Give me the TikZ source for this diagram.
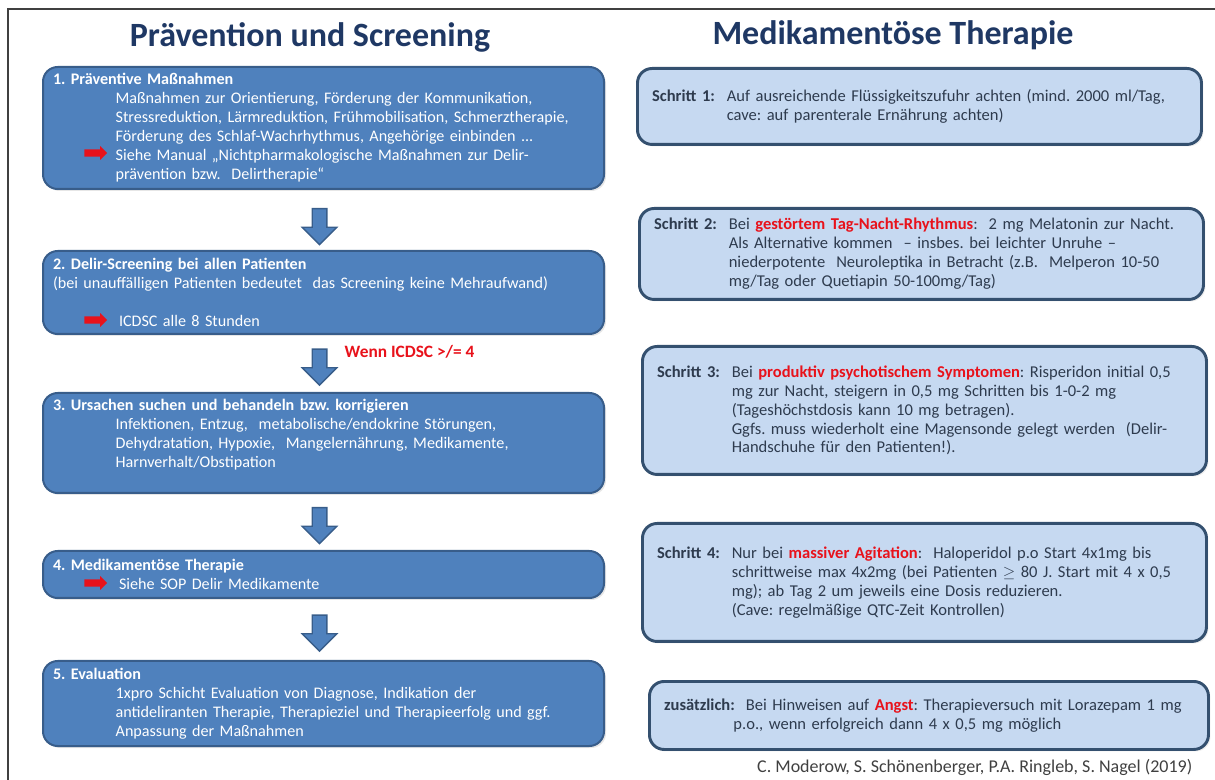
\documentclass[tikz,border=0pt]{standalone}
\usepackage{fontspec}
\setmainfont{Carlito}
\usetikzlibrary{shapes.arrows,shadows,calc}

\definecolor{boxblue}{HTML}{4F81BD}
\definecolor{boxedge}{HTML}{385D8A}
\definecolor{paleblue}{HTML}{C6D9F1}
\definecolor{paleedge}{HTML}{34506F}
\definecolor{titleblue}{HTML}{1F3864}
\definecolor{stepgrey}{HTML}{2E3B4E}
\definecolor{alertred}{HTML}{E8121B}
\definecolor{framegrey}{HTML}{404040}

\newcommand{\ind}{\hspace*{47pt}}
\newcommand{\indb}{\hspace*{49.5pt}}
\newcommand{\hot}[1]{\textcolor{alertred}{\textbf{#1}}}
\newcommand{\stepname}[1]{\makebox[56pt][l]{\textbf{#1}}}
\frenchspacing

\begin{document}
\begin{tikzpicture}[x=0.75pt,y=-0.75pt,
  lbox/.style={draw=boxedge, line width=1.5pt, fill=boxblue, rounded corners=11pt,
    anchor=north west, text=white, align=left, inner xsep=7.5pt, inner ysep=0pt,
    minimum width=420.75pt, text width=405.75pt,
    font=\fontsize{12.1}{14.25}\selectfont,
    drop shadow={opacity=0.2, shadow xshift=1.5pt, shadow yshift=-1.5pt}},
  rbox/.style={draw=paleedge, line width=2.2pt, fill=paleblue, rounded corners=11pt,
    anchor=north west, text=stepgrey, align=left, inner xsep=11pt, inner ysep=0pt,
    minimum width=423pt, text width=401pt,
    font=\fontsize{12.4}{14.2}\selectfont,
    drop shadow={opacity=0.15, shadow xshift=1.5pt, shadow yshift=-1.5pt}},
  downarrow/.style={single arrow, rotate=-90, draw=boxedge, line width=1pt, fill=boxblue,
    inner xsep=0pt, inner ysep=5pt, minimum height=27pt, minimum width=25pt,
    single arrow head extend=7.5pt},
  redarrow/.style={single arrow, fill=alertred, inner xsep=0pt, inner ysep=2.5pt,
    minimum height=17pt, minimum width=10pt, single arrow head extend=2.5pt},
  headline/.style={font=\fontsize{25.5}{30}\selectfont\bfseries, text=titleblue}]
\useasboundingbox (0,0) rectangle (1215,780);
\draw[framegrey, line width=1.5pt] (8,790) -- (8,9) -- (1225,9);

% titles
\node[headline] (lefttitle) at (310,37) {Prävention und Screening};
\node[headline] (righttitle) at (893,35) {Medikamentöse Therapie};

% left column
\node[lbox, minimum height=91.5pt] (p1) at (42,66) {\textbf{1. Präventive Maßnahmen}\\
\ind Maßnahmen zur Orientierung, Förderung der Kommunikation,\\
\ind Stressreduktion, Lärmreduktion,  Frühmobilisation, Schmerztherapie,\\
\ind Förderung des Schlaf-Wachrhythmus, Angehörige einbinden ...\\
\ind Siehe Manual „Nichtpharmakologische Maßnahmen zur Delir-\\
\ind prävention bzw.\ \ Delirtherapie“};
\node[lbox, minimum height=62.25pt] (p2) at (42,250) {\textbf{2. Delir-Screening bei allen Patienten}\\
(bei unauffälligen Patienten bedeutet\ \ das Screening keine Mehraufwand)\\
\mbox{}\\
\indb ICDSC alle 8 Stunden};
\node[lbox, minimum height=75pt] (p3) at (42,392) {\textbf{3. Ursachen suchen und behandeln bzw. korrigieren}\\
\ind Infektionen, Entzug,\ \ metabolische/endokrine Störungen,\\
\ind Dehydratation, Hypoxie,\ \ Mangelernährung, Medikamente,\\
\ind Harnverhalt/Obstipation\\
\mbox{}};
\node[lbox, minimum height=35.25pt] (p4) at (42,550) {\textbf{4. Medikamentöse Therapie}\\
\indb Siehe SOP Delir Medikamente};
\node[lbox, minimum height=63.75pt] (p5) at (42,660) {\textbf{5. Evaluation}\\
\ind 1xpro Schicht Evaluation von Diagnose, Indikation der\\
\ind antideliranten Therapie, Therapieziel und Therapieerfolg und ggf.\\
\ind Anpassung der Maßnahmen};

% red pointers
\node[redarrow] (m1) at (94,153) {};
\node[redarrow] (m2) at (94,320) {};
\node[redarrow] (m3) at (94,583) {};

% flow arrows
\node[downarrow] (a1) at ($(p1.south)!.5!(p2.north)+(-4,3)$) {};
\node[downarrow] (a2) at ($(p2.south)!.5!(p3.north)+(-4,0)$) {};
\node[downarrow] (a3) at ($(p3.south)!.5!(p4.north)+(-4,0)$) {};
\node[downarrow] (a4) at ($(p4.south)!.5!(p5.north)+(-4,0)$) {};
\node[anchor=west, text=alertred, font=\fontsize{13}{15}\selectfont\bfseries] (wenn) at (340,352) {Wenn ICDSC >/= 4};

% right column
\node[rbox, minimum height=57pt] (s1) at (636,67) {\stepname{Schritt 1:}Auf ausreichende Flüssigkeitszufuhr achten (mind. 2000 ml/Tag,\\
\hspace*{56pt}cave: auf parenterale Ernährung achten)};
\node[rbox, minimum height=68.25pt] (s2) at (638,207) {\stepname{Schritt 2:}Bei \hot{gestörtem Tag-Nacht-Rhythmus}:\ \ 2 mg Melatonin zur Nacht.\\
\hspace*{56pt}Als Alternative kommen\ \ -- insbes. bei leichter Unruhe --\\
\hspace*{56pt}niederpotente\ \ Neuroleptika in Betracht (z.B.\ \ Melperon 10-50\\
\hspace*{56pt}mg/Tag oder Quetiapin 50-100mg/Tag)};
\node[rbox, minimum height=96pt] (s3) at (641,345) {\stepname{Schritt 3:}Bei \hot{produktiv psychotischem Symptomen}: Risperidon initial 0,5\\
\hspace*{56pt}mg zur Nacht, steigern in 0,5 mg Schritten bis 1-0-2 mg\\
\hspace*{56pt}(Tageshöchstdosis kann 10 mg betragen).\\
\hspace*{56pt}Ggfs. muss wiederholt eine Magensonde gelegt werden\ \ (Delir-\\
\hspace*{56pt}Handschuhe für den Patienten!).};
\node[rbox, minimum height=88.5pt] (s4) at (641,522) {\stepname{Schritt 4:}Nur bei \hot{massiver Agitation}:\ \ Haloperidol p.o Start 4x1mg bis\\
\hspace*{56pt}schrittweise max 4x2mg (bei Patienten $\geq$ 80 J. Start mit 4 x 0,5\\
\hspace*{56pt}mg); ab Tag 2 um jeweils eine Dosis reduzieren.\\
\hspace*{56pt}(Cave: regelmäßige QTC-Zeit Kontrollen)};
\node[rbox, minimum height=51pt, minimum width=419.25pt, text width=397.25pt] (s5) at (648,680) {\textbf{zusätzlich:}\ \ Bei Hinweisen auf \hot{Angst}: Therapieversuch mit Lorazepam 1 mg\\
\hspace*{52pt}p.o., wenn erfolgreich dann 4 x 0,5 mg möglich};

\node[anchor=east, text=framegrey, font=\fontsize{13.5}{16}\selectfont] (credit) at (1197,767) {C. Moderow, S. Schönenberger, P.A. Ringleb, S. Nagel (2019)};
\end{tikzpicture}
\end{document}
